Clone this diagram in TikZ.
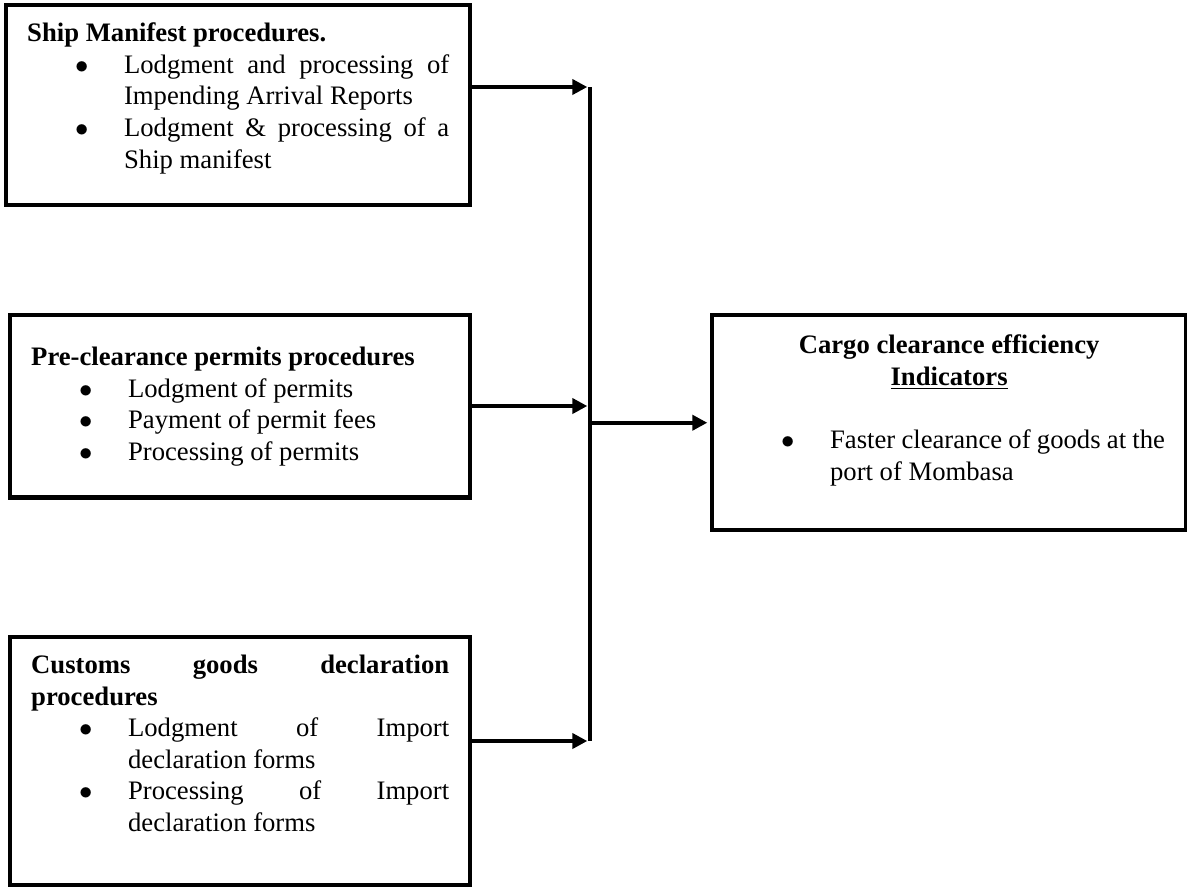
\documentclass[tikz,border=0pt]{standalone}
\usepackage{fontspec}
\setmainfont{Liberation Serif}
\usepackage{tikz}
\usetikzlibrary{arrows.meta}
\definecolor{ink}{HTML}{000000}
\hyphenpenalty=10000
\exhyphenpenalty=10000
\sloppy
\newenvironment{dotlist}{%
  \begin{list}{$\bullet$}{%
    \setlength{\leftmargin}{43.6pt}\setlength{\labelwidth}{6pt}%
    \setlength{\labelsep}{16pt}\setlength{\itemsep}{0pt}%
    \setlength{\parsep}{0pt}\setlength{\topsep}{0pt}%
    \setlength{\partopsep}{0pt}}}%
  {\end{list}}
\newcommand{\boxbody}[4]{\parbox[c][#2][t]{#1}{\vspace*{#3}#4}}
\tikzset{
  proc/.style={draw=ink, line width=2pt, rectangle, inner xsep=9.45pt, inner ysep=0pt,
    anchor=north west, font=\fontsize{12}{14.2}\selectfont},
  arr/.style={draw=ink, line width=2pt, -{Triangle[length=6.75pt,width=6.75pt]}, shorten >=1.2pt},
  bar/.style={draw=ink, line width=1.4pt},
}
\begin{document}
\begin{tikzpicture}[x=0.45pt,y=-0.45pt]
  \useasboundingbox (0,0) rectangle (1187,886);
  % left column
  \node[proc] (manifest) at (4,3) {\boxbody{189.9pt}{90pt}{8pt}{%
    \textbf{Ship Manifest procedures.}
    \begin{dotlist}
      \item Lodgment and processing of\linebreak Impending Arrival Reports
      \item Lodgment \& processing of a\linebreak Ship manifest
    \end{dotlist}}};
  \node[proc] (permits) at (8,313) {\boxbody{188.1pt}{82.1pt}{14.3pt}{%
    \textbf{Pre-clearance permits procedures}
    \begin{dotlist}
      \item Lodgment of permits
      \item Payment of permit fees
      \item Processing of permits
    \end{dotlist}}};
  \node[proc] (customs) at (8,634.5) {\boxbody{188.1pt}{111.8pt}{8.2pt}{%
    \textbf{Customs goods declaration\linebreak procedures}
    \begin{dotlist}
      \item Lodgment of Import\linebreak declaration forms
      \item Processing of Import\linebreak declaration forms
    \end{dotlist}}};
  % right box
  \node[proc] (cargo) at (710,313) {\boxbody{194.3pt}{96.75pt}{8.9pt}{%
    {\centering\textbf{Cargo clearance efficiency}\\
     \textbf{\underline{Indicators}}\par}
    \vspace{\baselineskip}
    \begin{dotlist}
      \item Faster clearance of goods at the\linebreak port of Mombasa
    \end{dotlist}}};
  % joining bar
  \coordinate (j1) at (590,87);
  \coordinate (j2) at (590,406);
  \coordinate (j3) at (590,741);
  \draw[bar] (j1) -- (j3);
  \draw[arr] (manifest.east |- j1) -- (j1);
  \draw[arr] (permits.east |- j2) -- (j2);
  \draw[arr] (customs.east |- j3) -- (j3);
  \draw[arr] (cargo.west -| j1) -- (cargo.west);
\end{tikzpicture}
\end{document}
